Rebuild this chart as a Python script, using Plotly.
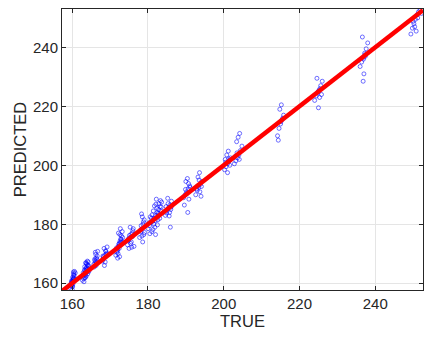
import plotly.graph_objects as go

# ---- data: (true, predicted) per cluster ----
t160 = [159.6,159.8,160.0,160.1,160.3,160.5,160.2,159.9,160.4,160.6,160.0,160.3,159.7,160.1,160.8,160.2,
        159.8,160.0,160.4,160.2,159.9,160.5,160.1,160.3]
p160 = [158.2,159.5,160.3,161.0,161.8,162.5,160.7,159.0,163.2,164.0,157.8,161.4,160.0,162.0,163.5,159.8,
        160.8,159.2,162.8,161.2,160.4,161.6,158.8,163.8]
t163 = [162.7,163.0,163.2,163.4,163.6,163.8,164.0,164.2,164.4,163.1,163.5,163.9,164.3,163.3,163.7,164.1,162.9,163.6,
        163.2,163.4,163.8,164.0,163.0,163.5,163.9,164.2,163.3,163.6,163.7,164.1]
p163 = [161.0,162.5,163.0,164.2,165.0,166.5,167.5,165.8,164.0,160.5,162.0,163.8,166.0,161.8,164.8,163.2,163.5,167.0,
        164.5,163.6,165.4,166.2,161.6,162.8,164.4,167.2,165.6,166.8,162.4,164.9]
t166 = [165.8,166.0,166.2,166.4,166.6,166.1,166.3,165.9,166.5,166.2,166.0,166.4,166.7,165.7]
p166 = [165.5,166.8,167.5,168.5,169.2,170.5,166.0,167.8,168.0,169.8,168.3,167.0,170.8,166.4]
t169 = [168.0,168.3,168.6,168.9,169.2,168.5,168.8,168.2,169.0,168.4,168.7,169.1,168.1]
p169 = [167.5,168.3,169.5,170.8,172.3,166.0,171.0,168.9,169.8,171.8,167.2,170.2,169.2]
t172 = [171.5,171.8,172.0,172.2,172.4,172.6,172.8,173.0,173.2,172.1,172.5,172.9,171.9,172.3,172.7,
        172.0,172.4,172.6,173.1,171.7,172.2,172.8,172.5,173.3]
p172 = [169.5,170.5,171.5,172.5,173.5,174.2,175.0,176.0,177.5,170.0,172.8,174.8,171.0,173.2,178.5,
        168.5,171.8,176.5,174.0,172.0,177.0,173.8,169.0,175.5]
t175 = [174.6,174.9,175.2,175.5,175.8,176.1,176.3,175.0,175.6,175.3,175.9,175.4,175.7,176.0,174.8,175.1]
p175 = [173.0,174.5,175.5,176.5,177.0,178.5,172.5,171.8,174.0,179.0,175.8,173.5,172.2,177.8,175.0,176.2]
t179 = [177.8,178.1,178.4,178.7,179.0,178.3,178.6,178.9,178.2,178.5,178.0,178.8,179.1,178.4]
p179 = [175.5,177.5,178.5,180.0,181.5,183.5,174.0,176.5,179.5,182.5,178.0,180.8,177.2,176.0]
t182 = [180.0,180.4,180.8,181.2,181.6,182.0,182.4,182.8,183.2,183.6,181.0,181.8,182.6,183.0,180.6,181.4,182.2,183.4,182.0,181.5,
        180.2,180.9,181.3,181.9,182.3,182.7,183.1,183.5,182.1,182.9,181.1,180.5,182.5,183.3,181.7,182.4]
p182 = [178.5,179.5,180.5,181.0,182.0,183.0,184.0,185.0,186.0,187.5,177.5,179.0,181.5,183.5,182.5,184.5,188.5,184.5,176.5,180.0,
        180.5,182.0,178.2,181.2,185.5,183.8,182.0,185.8,186.8,187.0,183.2,176.8,179.8,188.0,186.2,182.8]
t186 = [184.6,185.0,185.4,185.8,186.2,185.2,185.6,186.0,184.8,185.9,185.3,185.7,186.1,184.9]
p186 = [183.0,184.5,185.5,186.5,187.8,188.8,182.8,185.0,186.0,179.0,187.0,184.0,185.8,183.8]
t190 = [189.4,189.8,190.2,190.6,191.0,190.0,190.4,190.8,189.6,190.5,189.9,190.3,190.7,191.1]
p190 = [189.0,190.0,191.0,192.0,193.0,194.5,195.5,188.5,186.5,184.0,191.8,190.5,193.8,192.5]
t193 = [192.6,193.0,193.4,193.8,194.2,193.2,193.6,194.0,192.8,193.5,193.1,193.7,194.1]
p193 = [190.0,191.5,192.5,193.5,194.5,196.0,197.5,189.5,192.0,195.0,193.0,191.0,192.8]
t201 = [200.2,200.6,201.0,201.4,201.8,200.8,201.2,201.6,200.4,201.0,200.5,201.3,201.7]
p201 = [198.5,199.5,200.5,201.5,202.5,203.5,204.8,200.0,202.0,197.5,201.0,202.2,201.8]
t204 = [202.8,203.2,203.6,204.0,204.4,204.8,203.4,203.8,204.2,203.0,203.5,204.1]
p204 = [200.5,201.5,202.5,203.5,205.0,206.5,208.0,209.5,210.8,203.0,204.2,202.0]
t215 = [214.2,214.6,215.0,215.4,215.8,214.8,215.2,215.6,214.4,215.1]
p215 = [210.0,212.5,214.0,215.5,217.0,219.0,220.5,216.0,208.5,214.8]
t225 = [224.0,224.4,224.8,225.2,225.6,226.0,224.6,225.4,225.8,225.0,224.9,225.3]
p225 = [222.0,223.5,224.5,225.5,227.0,228.5,229.5,226.0,224.0,219.5,225.0,223.0]
t237 = [236.0,236.4,236.8,237.2,237.6,238.0,236.6,237.4,237.0,236.8,237.3,236.9]
p237 = [233.5,235.0,236.5,238.0,239.5,241.5,243.5,237.0,231.0,228.5,237.5,236.0]
t251 = [249.4,249.8,250.2,250.6,251.0,251.4,251.8,252.2,250.4,250.8,251.2,250.0]
p251 = [244.5,246.5,248.0,249.5,251.0,252.0,252.5,251.5,247.0,245.5,250.0,248.8]

x_range = [157.3, 252.6]
y_range = [157.7, 253.0]
tick_vals = [160, 180, 200, 220, 240]

true_all = (t160 + t163 + t166 + t169 + t172 + t175 + t179 + t182 + t186 +
            t190 + t193 + t201 + t204 + t215 + t225 + t237 + t251)
pred_all = (p160 + p163 + p166 + p169 + p172 + p175 + p179 + p182 + p186 +
            p190 + p193 + p201 + p204 + p215 + p225 + p237 + p251)

fig = go.Figure()
fig.add_trace(go.Scatter(
    x=true_all, y=pred_all, mode="markers",
    marker=dict(symbol="circle-open", size=4, color="rgba(0,0,255,0.7)",
                line=dict(width=0.8, color="rgba(0,0,255,0.7)")),
    showlegend=False, cliponaxis=True))
fig.add_trace(go.Scatter(
    x=[x_range[0], x_range[1]], y=[x_range[0], x_range[1]], mode="lines",
    line=dict(color="#ff0000", width=4.5), showlegend=False))

font_fam = "Liberation Sans, Arial"
axis_common = dict(
    showline=True, linecolor="#262626", linewidth=1, mirror="ticks",
    ticks="inside", ticklen=4, tickcolor="#262626",
    showgrid=True, gridcolor="#e5e5e5", gridwidth=1, zeroline=False,
    tickvals=tick_vals, tickfont=dict(family=font_fam, size=15, color="#262626"),
    automargin=False,
)
fig.update_xaxes(range=x_range, title=dict(text="TRUE", standoff=4,
                 font=dict(family=font_fam, size=16.5, color="#262626")),
                 **axis_common)
fig.update_yaxes(range=y_range, title=dict(text="PREDICTED", standoff=2,
                 font=dict(family=font_fam, size=16.5, color="#262626")),
                 **axis_common)
fig.update_layout(width=425, height=337, margin=dict(l=62, r=2, t=9, b=47),
                  plot_bgcolor="white", paper_bgcolor="white", hovermode=False)
fig.write_html("out.html", config={"displayModeBar": False},
               post_script="document.body.style.margin='0';document.body.style.overflow='hidden';")
